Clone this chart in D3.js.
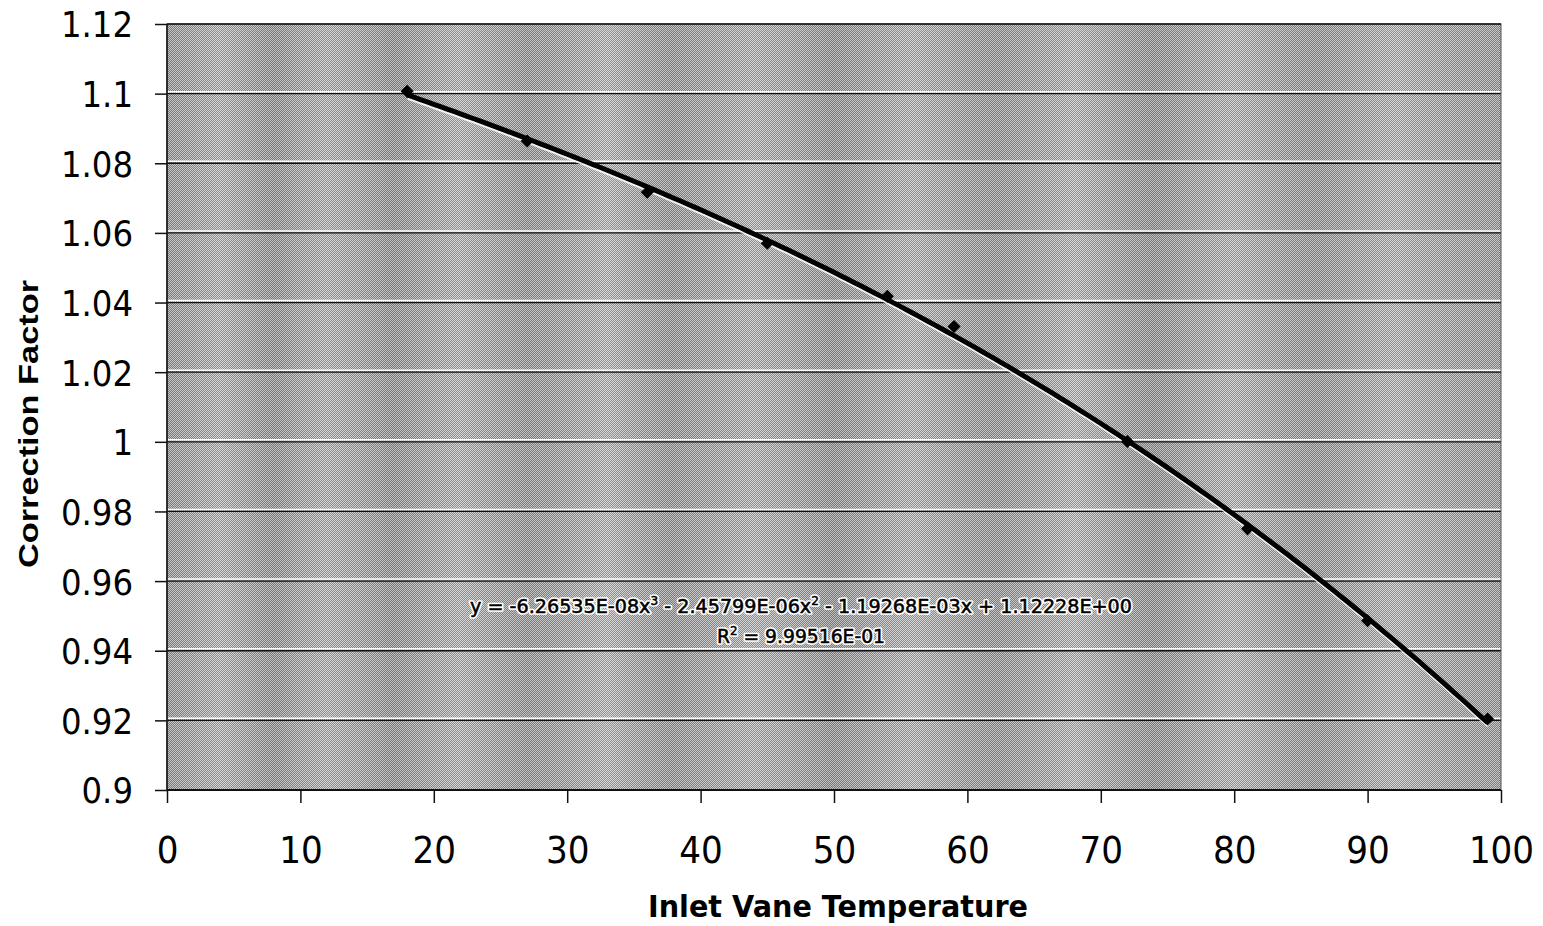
<!DOCTYPE html>
<html lang='en'>
<head>
  <meta charset='utf-8'>
  <script src="https://d3js.org/d3.v7.min.js"></script>
  <title>Correction Factor vs Inlet Vane Temperature</title>
  <style>
    body { margin: 0; background: #ffffff; }
  </style>
</head>
<body>
  <div id="my_dataviz"></div>

  <script>
    // data
    const temps = [18, 27, 36, 45, 54, 59, 72, 81, 90, 99];
    const factors = [1.1007, 1.0864, 1.0717, 1.0570, 1.0418, 1.0331, 1.0001, 0.9750, 0.9486, 0.9204];

    // trendline coefficients shown on the chart (x^3, x^2, x, const)
    const trendCoef = [-6.26535E-08, -2.45799E-06, -1.19268E-03, 1.12228E+00];

    const xTicks = [0, 10, 20, 30, 40, 50, 60, 70, 80, 90, 100];
    const yTicks = [0.9, 0.92, 0.94, 0.96, 0.98, 1, 1.02, 1.04, 1.06, 1.08, 1.1, 1.12];
    const yTickLabels = ["0.9", "0.92", "0.94", "0.96", "0.98", "1", "1.02", "1.04", "1.06", "1.08", "1.1", "1.12"];

    // dimensions
    const W = 1543, H = 926;
    const margin = {top: 24, right: 42, bottom: 136, left: 167};
    const width = W - margin.left - margin.right,
          height = H - margin.top - margin.bottom;

    const svg = d3.select("#my_dataviz")
      .append("svg")
      .attr("width", W)
      .attr("height", H);

    const defs = svg.append("defs");

    // dithered gray fill
    const pat = defs.append("pattern")
      .attr("id", "dither")
      .attr("width", 2).attr("height", 2)
      .attr("patternUnits", "userSpaceOnUse");
    pat.append("rect").attr("width", 2).attr("height", 2).attr("fill", "#d4d4d4");
    pat.append("rect").attr("x", 0).attr("y", 0).attr("width", 1).attr("height", 1).attr("fill", "#848484");
    pat.append("rect").attr("x", 1).attr("y", 1).attr("width", 1).attr("height", 1).attr("fill", "#848484");

    // vertical banding
    const bands = defs.append("linearGradient")
      .attr("id", "bands")
      .attr("x1", "0%").attr("x2", "100%").attr("y1", "0%").attr("y2", "0%");
    const bandStops = [
      [0, "#000", 0.08], [4, "#fff", 0.10], [8, "#000", 0.10], [12, "#fff", 0.08],
      [17, "#000", 0.10], [22, "#fff", 0.10], [27, "#000", 0.08], [33, "#fff", 0.12],
      [38, "#000", 0.08], [44, "#fff", 0.08], [50, "#000", 0.10], [56, "#fff", 0.10],
      [62, "#000", 0.08], [68, "#fff", 0.12], [74, "#000", 0.10], [80, "#fff", 0.10],
      [86, "#000", 0.08], [92, "#fff", 0.10], [100, "#000", 0.06]
    ];
    bands.selectAll("stop")
      .data(bandStops)
      .join("stop")
      .attr("offset", d => d[0] + "%")
      .attr("stop-color", d => d[1])
      .attr("stop-opacity", d => d[2]);

    const g = svg.append("g")
      .attr("transform", `translate(${margin.left}, ${margin.top})`);

    // scales
    const x = d3.scaleLinear().domain([0, 100]).range([0, width]);
    const y = d3.scaleLinear().domain([0.9, 1.12]).range([height, 0]);

    // plot background
    g.append("rect")
      .attr("width", width).attr("height", height)
      .attr("fill", "url(#dither)");
    g.append("rect")
      .attr("width", width).attr("height", height)
      .attr("fill", "url(#bands)");

    // gridlines: white highlight above, black line
    const grid = g.append("g");
    grid.selectAll("line.hl")
      .data(yTicks.slice(1, -1))
      .join("line")
      .attr("class", "hl")
      .attr("x1", 0).attr("x2", width)
      .attr("y1", d => y(d) - 2).attr("y2", d => y(d) - 2)
      .attr("stroke", "#ffffff").attr("stroke-width", 1.5);
    grid.selectAll("line.gl")
      .data(yTicks.slice(1, -1))
      .join("line")
      .attr("class", "gl")
      .attr("x1", 0).attr("x2", width)
      .attr("y1", d => y(d)).attr("y2", d => y(d))
      .attr("stroke", "#111111").attr("stroke-width", 1.3);

    // plot border
    g.append("rect")
      .attr("width", width).attr("height", height)
      .attr("fill", "none")
      .attr("stroke", "#555555").attr("stroke-width", 1);
    g.append("line")
      .attr("x1", 0).attr("x2", width).attr("y1", 0).attr("y2", 0)
      .attr("stroke", "#111").attr("stroke-width", 1.5);
    g.append("line")
      .attr("x1", 0).attr("x2", 0).attr("y1", 0).attr("y2", height)
      .attr("stroke", "#111").attr("stroke-width", 1.5);
    g.append("line")
      .attr("x1", 0).attr("x2", width).attr("y1", height).attr("y2", height)
      .attr("stroke", "#111").attr("stroke-width", 2);

    // axes
    const yAxis = g.append("g")
      .call(d3.axisLeft(y)
        .tickValues(yTicks)
        .tickSize(12)
        .tickPadding(22)
        .tickFormat((d, i) => yTickLabels[i]));
    yAxis.select(".domain").remove();
    yAxis.selectAll("line").attr("stroke", "#111").attr("stroke-width", 1.5);
    yAxis.selectAll("text")
      .attr("font-family", "'DejaVu Sans Condensed', 'DejaVu Sans', sans-serif")
      .attr("font-size", 36)
      .attr("fill", "#000")
      .attr("dy", "0.36em");

    const xAxis = g.append("g")
      .attr("transform", `translate(0, ${height})`)
      .call(d3.axisBottom(x)
        .tickValues(xTicks)
        .tickSize(13)
        .tickFormat(d3.format("d")));
    xAxis.select(".domain").remove();
    xAxis.selectAll("line").attr("stroke", "#111").attr("stroke-width", 1.5);
    xAxis.selectAll("text")
      .attr("font-family", "'DejaVu Sans Condensed', 'DejaVu Sans', sans-serif")
      .attr("font-size", 38)
      .attr("fill", "#000")
      .attr("y", 73)
      .attr("dy", 0);

    // trendline from the chart's coefficients
    const poly = t => ((trendCoef[0] * t + trendCoef[1]) * t + trendCoef[2]) * t + trendCoef[3];
    const trendX = d3.range(temps[0], temps[temps.length - 1] + 0.01, 0.5);
    const trendLine = d3.line()
      .x(d => x(d))
      .y(d => y(poly(d)));

    g.append("path")
      .datum(trendX)
      .attr("d", trendLine)
      .attr("transform", "translate(1, 2.5)")
      .attr("fill", "none")
      .attr("stroke", "#ffffff")
      .attr("stroke-width", 5)
      .attr("opacity", 0.85);

    // data markers (diamonds)
    g.append("g")
      .selectAll("path")
      .data(temps)
      .join("path")
      .attr("transform", (d, i) => `translate(${x(d)}, ${y(factors[i])}) rotate(45)`)
      .attr("d", d3.symbol().type(d3.symbolSquare).size(85))
      .attr("fill", "#000");

    g.append("path")
      .datum(trendX)
      .attr("d", trendLine)
      .attr("fill", "none")
      .attr("stroke", "#000000")
      .attr("stroke-width", 5);

    // equation label: white halo layer, then text layer
    function equation(layer) {
      const e1 = layer.append("text")
        .attr("x", 801).attr("y", 613)
        .attr("textLength", 662)
        .attr("lengthAdjust", "spacingAndGlyphs");
      e1.append("tspan").text("y = -6.26535E-08x");
      e1.append("tspan").attr("dy", -8).attr("font-size", 12).text("3");
      e1.append("tspan").attr("dy", 8).text(" - 2.45799E-06x");
      e1.append("tspan").attr("dy", -8).attr("font-size", 12).text("2");
      e1.append("tspan").attr("dy", 8).text(" - 1.19268E-03x + 1.12228E+00");

      const e2 = layer.append("text")
        .attr("x", 801).attr("y", 643)
        .attr("textLength", 168)
        .attr("lengthAdjust", "spacingAndGlyphs");
      e2.append("tspan").text("R");
      e2.append("tspan").attr("dy", -8).attr("font-size", 12).text("2");
      e2.append("tspan").attr("dy", 8).text(" = 9.99516E-01");
    }

    const eqFont = "'DejaVu Sans Condensed', 'DejaVu Sans', sans-serif";
    equation(svg.append("g")
      .attr("font-family", eqFont)
      .attr("font-size", 19)
      .attr("text-anchor", "middle")
      .attr("fill", "#ffffff")
      .attr("stroke", "#ffffff")
      .attr("stroke-width", 3.5)
      .attr("stroke-linejoin", "round"));
    equation(svg.append("g")
      .attr("font-family", eqFont)
      .attr("font-size", 19)
      .attr("text-anchor", "middle")
      .attr("fill", "#000")
      .attr("stroke", "#000")
      .attr("stroke-width", 0.5));

    // axis titles
    svg.append("text")
      .attr("transform", "translate(38, 424) rotate(-90)")
      .attr("text-anchor", "middle")
      .attr("font-family", "'Liberation Sans', Arial, sans-serif")
      .attr("font-weight", "bold")
      .attr("font-size", 28)
      .attr("textLength", 288)
      .attr("lengthAdjust", "spacingAndGlyphs")
      .text("Correction Factor");

    svg.append("text")
      .attr("x", 838).attr("y", 917)
      .attr("text-anchor", "middle")
      .attr("font-family", "'DejaVu Sans', sans-serif")
      .attr("font-weight", "bold")
      .attr("font-size", 30)
      .attr("textLength", 380)
      .attr("lengthAdjust", "spacingAndGlyphs")
      .text("Inlet Vane Temperature");
  </script>
</body>
</html>
